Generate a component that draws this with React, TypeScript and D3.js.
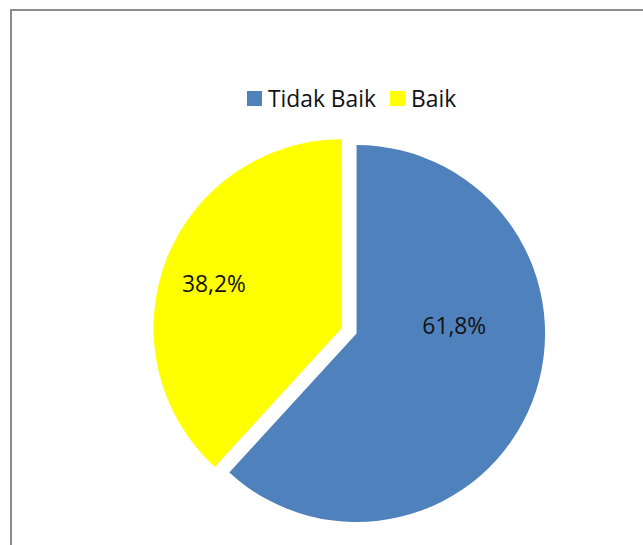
import { arc, pie, PieArcDatum } from "d3";

const categories = ["Tidak Baik", "Baik"];
const values = [61.8, 38.2];
const labels = ["61,8%", "38,2%"];
const colors = ["#4f81bd", "#ffff00"];
// where each data label sits: fraction along the slice's sweep, and fraction of the radius
const labelSweep = [0.385, 0.485];
const labelRadius = [0.52, 0.72];

interface Slice {
  name: string;
  value: number;
  label: string;
  color: string;
  sweep: number;
  rFrac: number;
}

const slices: Slice[] = categories.map((name, i) => ({
  name,
  value: values[i],
  label: labels[i],
  color: colors[i],
  sweep: labelSweep[i],
  rFrac: labelRadius[i],
}));

const width = 643;
const height = 545;
const cx = 349.3;
const cy = 330.7;
const radius = 188.5;
const explode = 7.8;
const font = "'Open Sans', sans-serif";
const fontSize = 22.8;

function Legend() {
  // legend entries laid out left to right
  const items = [247, 390];
  return (
    <g>
      {slices.map((s, i) => (
        <g key={`legend-${s.name}`} transform={`translate(${items[i]}, 91)`}>
          <rect width={15} height={15} fill={s.color} />
          <text x={21} y={16} fontSize={fontSize} fontFamily={font} fill="#111">
            {s.name}
          </text>
        </g>
      ))}
    </g>
  );
}

export default function App() {
  const arcs = pie<Slice>()
    .value((d) => d.value)
    .sort(null)(slices);
  const arcGen = arc<PieArcDatum<Slice>>().innerRadius(0).outerRadius(radius);

  return (
    <svg
      width={width}
      height={height}
      style={{ position: "absolute", left: 0, top: 0, background: "#fff" }}
    >
      <rect x={11} y={10} width={width + 20} height={height + 20} fill="#fff" stroke="#8c8c8c" strokeWidth={2} />
      <Legend />
      <g transform={`translate(${cx}, ${cy})`}>
        {arcs.map((a) => {
          const mid = (a.startAngle + a.endAngle) / 2;
          const dx = Math.sin(mid) * explode;
          const dy = -Math.cos(mid) * explode;
          const la = a.startAngle + (a.endAngle - a.startAngle) * a.data.sweep;
          const lr = radius * a.data.rFrac;
          return (
            <g key={`slice-${a.data.name}`} transform={`translate(${dx}, ${dy})`}>
              <path d={arcGen(a) ?? ""} fill={a.data.color} />
              <text
                x={Math.sin(la) * lr}
                y={-Math.cos(la) * lr}
                dy="0.36em"
                textAnchor="middle"
                fontSize={fontSize}
                fontFamily={font}
                fill="#111"
              >
                {a.data.label}
              </text>
            </g>
          );
        })}
      </g>
    </svg>
  );
}
